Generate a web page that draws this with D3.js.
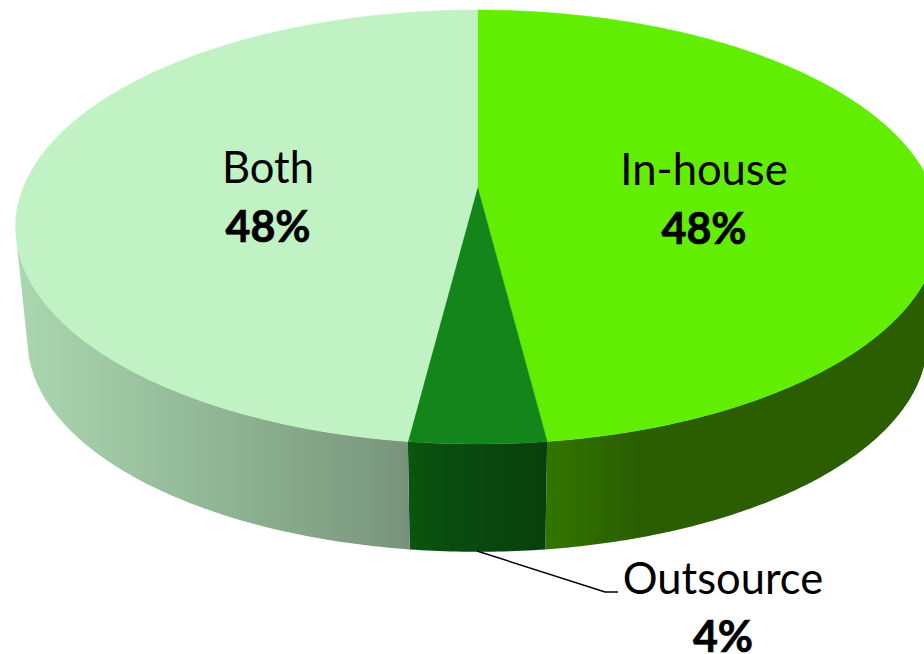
<!DOCTYPE html>
<html><head><meta charset="utf-8">
<style>html,body{margin:0;background:#fff}svg{display:block}text{font-family:Lato,"Open Sans",sans-serif;fill:#000}</style>
<script src="https://cdn.jsdelivr.net/npm/d3@7"></script></head><body>
<svg id="c" width="924" height="654"></svg>
<script>
const categories=["In-house","Outsource","Both"];
const values=[48,4,48];
const labels=["48%","4%","48%"];
const topColors=["#62EE02","#14851A","#C0F2C3"];
const sideStops=[[547,640,924],[410,450,547],[20,400,409]];
const sideColors=[["#337500","#2A5E00","#2A5E00"],["#0B5510","#0A4C10","#07400D"],["#AAD7AF","#79967D","#76907A"]];
const labelX=[704,723,268];
const nameY=[185,594,183];
const pctY=[244,652,242];
const leader=[[477,551],[605,592],[618,592]];

const svg=d3.select("#c");
const cx=477.5,apexY=187,A=454,B=209.6,b=0.1843,depth=0.974,baseDy=113.5,ellCy=227;
const project=a=>{const u=Math.sin(a),v=-Math.cos(a),k=1-b*v;return [cx+A*u/k,apexY+B*v/k];};
const projectBase=a=>{const [x,y]=project(a);return [cx+(x-cx)*depth,ellCy+baseDy+(y-ellCy)*depth];};
const arcs=d3.pie().sort(null)(values);
const angles=d=>{const n=Math.max(8,Math.ceil((d.endAngle-d.startAngle)*90));
  return d3.range(n+1).map(i=>d.startAngle+(d.endAngle-d.startAngle)*i/n);};
const line=d3.line();

// gradients along x, one per slice
const defs=svg.append("defs");
arcs.forEach((d,i)=>{
  const s=d3.scaleLinear().domain(d3.extent(sideStops[i])).range([0,1]);
  const gr=defs.append("linearGradient").attr("id","side"+i).attr("gradientUnits","userSpaceOnUse")
    .attr("x1",d3.min(sideStops[i])).attr("x2",d3.max(sideStops[i])).attr("y1",0).attr("y2",0);
  sideStops[i].forEach((x,j)=>gr.append("stop").attr("offset",s(x)).attr("stop-color",sideColors[i][j]));
});

// side wall: front-facing quads of each slice merged into one path
const sideArea=pts=>d3.polygonArea(pts);
svg.append("g").selectAll("path").data(arcs).join("path")
  .attr("d",d=>d3.pairs(angles(d)).map(([a0,a1])=>[project(a0),project(a1),projectBase(a1),projectBase(a0)])
      .filter(q=>sideArea(q)>0).map(q=>line(q)+"Z").join(""))
  .attr("fill",(d,i)=>`url(#side${i})`).attr("fill-rule","nonzero");

// top surface
svg.append("g").selectAll("path").data(arcs).join("path")
  .attr("d",d=>line([[cx,apexY],...angles(d).map(project)])+"Z")
  .attr("fill",(d,i)=>topColors[i]).attr("stroke",(d,i)=>topColors[i]).attr("stroke-width",0.5);

// leader
svg.append("path").attr("d",line(leader)).attr("fill","none").attr("stroke","#000").attr("stroke-width",1.5);

// labels
const g=svg.append("g").attr("text-anchor","middle");
categories.forEach((c,i)=>{
  g.append("text").attr("x",labelX[i]).attr("y",nameY[i]).attr("font-size",43.5).text(c);
  g.append("text").attr("x",labelX[i]).attr("y",pctY[i]).attr("font-size",43).attr("font-weight",700)
    .attr("stroke","#000").attr("stroke-width",0.7).text(labels[i]);
});
</script></body></html>
